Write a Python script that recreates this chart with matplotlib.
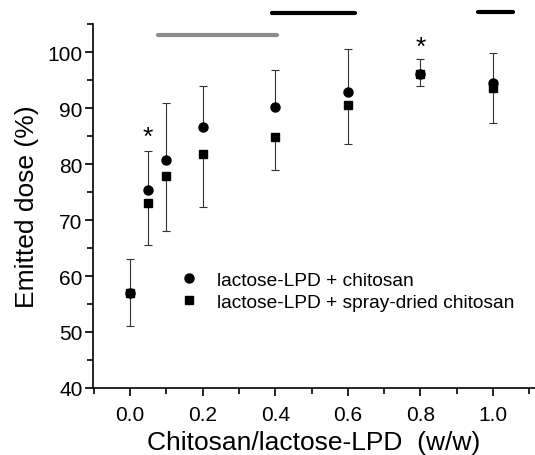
import matplotlib.pyplot as plt
import numpy as np

plt.rcParams['font.family'] = ['Liberation Sans', 'DejaVu Sans']

ratio = [0.0, 0.05, 0.1, 0.2, 0.4, 0.6, 0.8, 1.0]
chitosan = [57.0, 75.3, 80.8, 86.7, 90.2, 92.9, 96.1, 94.4]
spray_dried = [57.0, 73.1, 77.8, 81.8, 84.9, 90.5, 96.0, 93.6]
# upper error on chitosan series, lower error on spray-dried series
err_up = [6.0, 7.1, 10.1, 7.2, 6.6, 7.7, 2.7, 5.4]
err_down = [5.9, 7.5, 9.8, 9.4, 6.0, 7.0, 2.0, 6.3]

# significance bars: (x start, x end, y, colour)
sig_bars = [(0.077, 0.405, 103.1, '#8c8c8c'),
            (0.39, 0.62, 106.9, 'black'),
            (0.96, 1.055, 107.1, 'black')]
stars = [(0.05, 84.9), (0.8, 101.0)]

fig = plt.figure(figsize=(5.35, 4.56), dpi=100)
ax = fig.add_axes([0.174, 0.147, 0.826, 0.798])

ax.errorbar(ratio, spray_dried, yerr=[err_down, np.zeros(len(ratio))],
            fmt='none', ecolor='#333333', elinewidth=0.8, capsize=3, capthick=0.8)
ax.errorbar(ratio, chitosan, yerr=[np.zeros(len(ratio)), err_up],
            fmt='none', ecolor='#333333', elinewidth=0.8, capsize=3, capthick=0.8)
ax.plot(ratio, chitosan, 'o', color='black', markersize=6.5,
        label='lactose-LPD + chitosan', zorder=3)
ax.plot(ratio, spray_dried, 's', color='black', markersize=5.5,
        label='lactose-LPD + spray-dried chitosan', zorder=4)

for x0, x1, y, c in sig_bars:
    ax.plot([x0, x1], [y, y], color=c, lw=3, solid_capstyle='round', clip_on=False)
for x, y in stars:
    ax.text(x, y, '*', ha='center', va='center', fontsize=19, clip_on=False)

ax.set_xlim(-0.102, 1.116)
ax.set_ylim(40, 105)
ax.set_xticks([0.0, 0.2, 0.4, 0.6, 0.8, 1.0])
ax.set_xticks(np.arange(-0.1, 1.11, 0.1), minor=True)
ax.set_yticks(np.arange(40, 101, 10))
ax.set_yticks(np.arange(40, 106, 5), minor=True)
ax.xaxis.set_major_formatter(plt.FormatStrFormatter('%.1f'))
ax.tick_params(which='both', direction='out', width=1.2, labelsize=15)
ax.tick_params(which='major', length=6)
ax.tick_params(which='minor', length=4)
ax.tick_params(axis='x', which='major', pad=6.5)
ax.tick_params(axis='y', which='major', pad=1.5)
for s in ['top', 'right']:
    ax.spines[s].set_visible(False)
for s in ['left', 'bottom']:
    ax.spines[s].set_linewidth(1.2)

ax.set_xlabel('Chitosan/lactose-LPD  (w/w)', fontsize=19, labelpad=4)
ax.set_ylabel('Emitted dose (%)', fontsize=19, labelpad=6)

ax.legend(loc='upper left', bbox_to_anchor=(0.177, 0.342), frameon=False,
          fontsize=13.8, handletextpad=1.0, labelspacing=0.25,
          borderaxespad=0, handlelength=1.0)

fig.savefig('out.png', dpi=100)
